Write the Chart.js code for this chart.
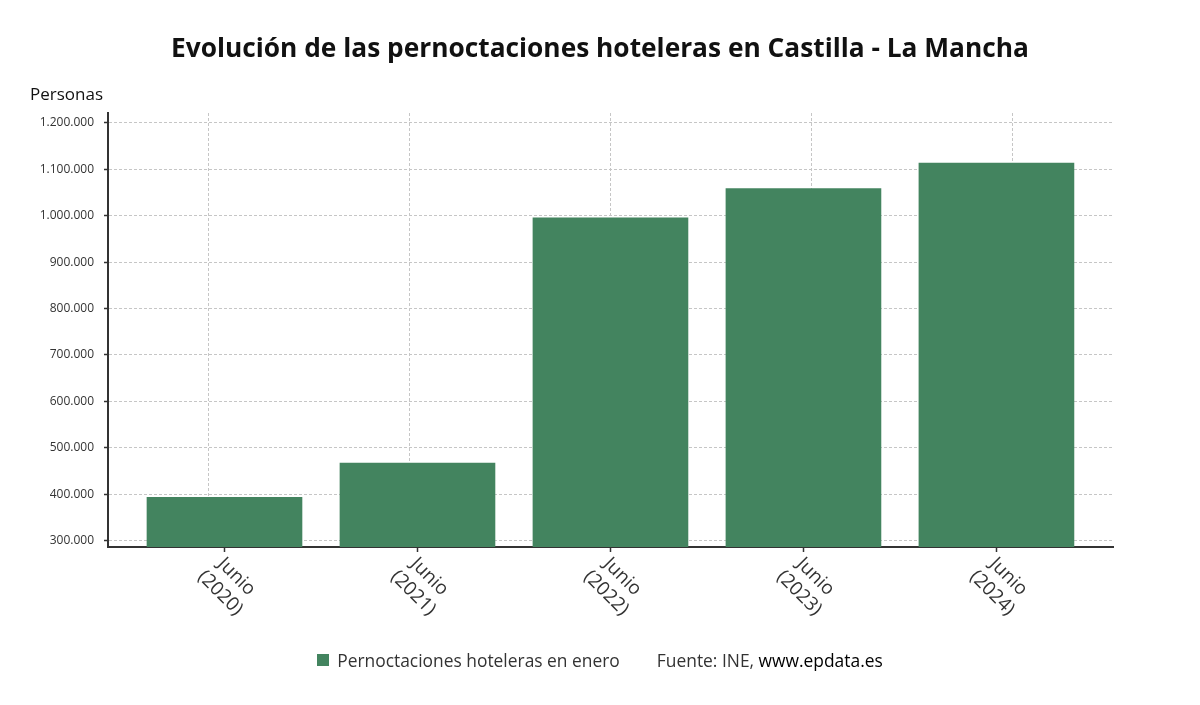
<!DOCTYPE html>
<html lang="es">
<head>
<meta charset="utf-8">
<title>Pernoctaciones hoteleras Castilla - La Mancha</title>
<script src="https://cdn.jsdelivr.net/npm/chart.js@4/dist/chart.umd.min.js"></script>
<style>
  html, body { margin: 0; padding: 0; background: #fff; }
  #wrap { position: relative; width: 1200px; height: 705px; font-family: "Open Sans", "Noto Sans", sans-serif; }
  #title { position: absolute; left: 0; top: 29px; width: 1200px; text-align: center; font-size: 26.3px; font-weight: 700; color: #111; line-height: 36px; }
  #unit { position: absolute; left: 30px; top: 82px; font-size: 17px; color: #111; }
  #legend { position: absolute; left: 0; top: 648px; width: 1200px; display: flex; justify-content: center; align-items: center; font-size: 17.4px; color: #333; }
  #legend .box { width: 12px; height: 12px; background: #43845f; margin-right: 8px; }
  #legend .src { margin-left: 37px; }
  #legend .src b { font-weight: 400; color: #000; }
  canvas { position: absolute; left: 0; top: 0; }
</style>
</head>
<body>
<div id="wrap">
  <canvas id="chart" width="1200" height="705"></canvas>
  <div id="title">Evolución de las pernoctaciones hoteleras en Castilla - La Mancha</div>
  <div id="unit">Personas</div>
  <div id="legend"><span class="box"></span><span>Pernoctaciones hoteleras en enero</span><span class="src">Fuente: INE, <b>www.epdata.es</b></span></div>
</div>
<script>
// datos
const categories = [['Junio', '(2020)'], ['Junio', '(2021)'], ['Junio', '(2022)'], ['Junio', '(2023)'], ['Junio', '(2024)']];
const values = [393700, 467000, 995500, 1058000, 1113000];
const yTicks = [300000, 400000, 500000, 600000, 700000, 800000, 900000, 1000000, 1100000, 1200000];

const barColor = '#43845f';
const gridColor = '#c6c6c6';
const axisColor = '#333';

// formato con puntos de miles
const fmt = v => String(Math.round(v)).replace(/\B(?=(\d{3})+(?!\d))/g, '.');

// etiquetas del eje x, giradas 45 grados
const xLabels = {
  id: 'xLabels',
  afterDraw(chart) {
    const ctx = chart.ctx;
    const scale = chart.scales.x;
    ctx.save();
    ctx.font = '19px "Open Sans", "Noto Sans", sans-serif';
    ctx.fillStyle = '#333';
    ctx.textAlign = 'center';
    ctx.textBaseline = 'top';
    categories.forEach((lines, i) => {
      const px = scale.getPixelForValue(i);
      const w = Math.max(...lines.map(l => ctx.measureText(l).width));
      ctx.save();
      ctx.translate(px, chart.chartArea.bottom + 3);
      ctx.rotate(Math.PI / 4);
      lines.forEach((l, j) => ctx.fillText(l, w / 2, 1 + j * 23));
      ctx.restore();
    });
    ctx.restore();
  }
};

new Chart(document.getElementById('chart'), {
  type: 'bar',
  data: {
    datasets: [{
      label: 'Pernoctaciones hoteleras en enero',
      data: values.map((v, i) => ({ x: i, y: v })),
      backgroundColor: barColor,
      barThickness: 155
    }]
  },
  options: {
    responsive: false,
    animation: false,
    layout: { padding: { top: 113, right: 87, bottom: 153, left: 0 } },
    plugins: { legend: { display: false }, tooltip: { enabled: false } },
    scales: {
      x: {
        type: 'linear',
        position: 'bottom',
        offset: false,
        min: -0.6036,
        max: 4.604,
        afterBuildTicks: s => { s.ticks = categories.map((c, i) => ({ value: i })); },
        afterFit: s => { s.height = 5; },
        ticks: { display: false },
        grid: { offset: false, drawOnChartArea: false, drawTicks: true, tickLength: 5, tickColor: axisColor, tickWidth: 1.5 },
        border: { display: true, color: axisColor, width: 2 }
      },
      xg: {
        type: 'linear',
        position: 'bottom',
        offset: false,
        min: 0,
        max: 5,
        afterBuildTicks: s => { s.ticks = [0.5, 1.5, 2.5, 3.5, 4.5].map(v => ({ value: v })); },
        afterFit: s => { s.height = 0; },
        ticks: { display: false },
        grid: { offset: false, color: gridColor, lineWidth: 1, drawTicks: false },
        border: { display: false, dash: [3, 2] }
      },
      y: {
        min: 286500,
        max: 1221000,
        afterBuildTicks: s => { s.ticks = yTicks.map(v => ({ value: v })); },
        afterFit: s => { s.width = 108; },
        ticks: {
          color: '#333',
          padding: 10,
          font: { family: '"Open Sans", "Noto Sans", sans-serif', size: 12 },
          callback: v => fmt(v)
        },
        grid: { color: gridColor, lineWidth: 1, drawTicks: true, tickLength: 4, tickColor: axisColor, tickWidth: 1.5 },
        border: { display: true, color: axisColor, width: 2, dash: [3, 2] }
      }
    }
  },
  plugins: [xLabels]
});
</script>
</body>
</html>
